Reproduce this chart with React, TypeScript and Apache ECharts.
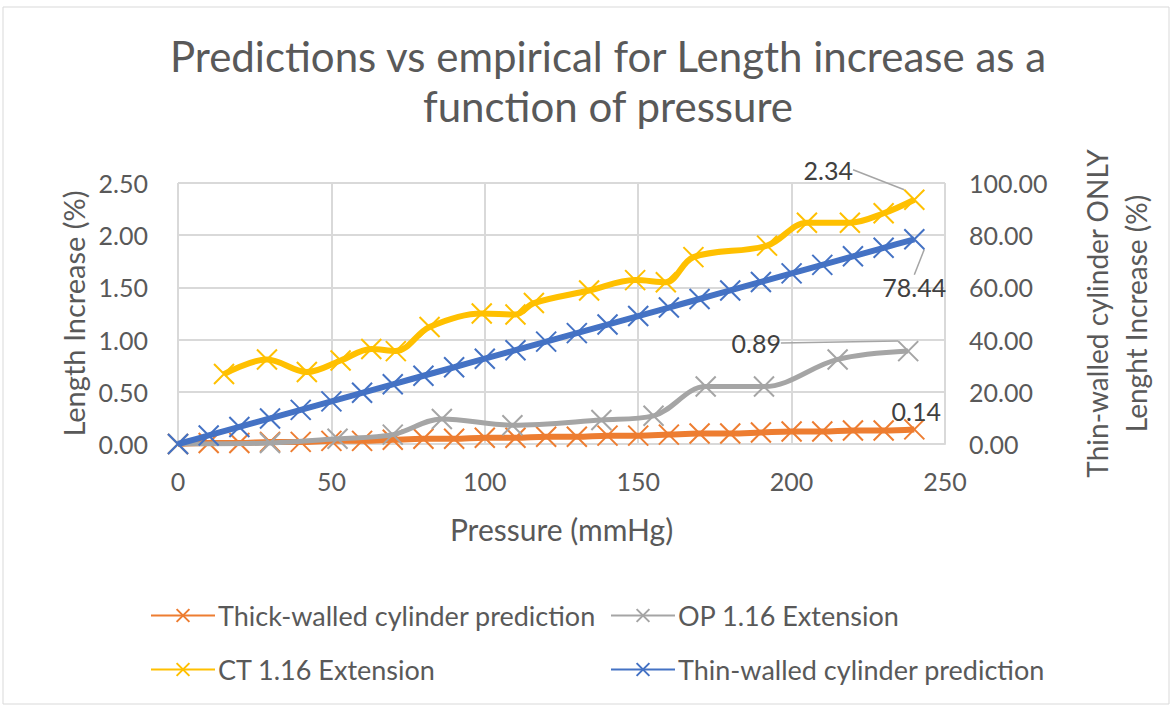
import React, { useEffect, useRef } from "react";
import * as echarts from "echarts";

const TITLE = "Predictions vs empirical for Length increase as a\nfunction of pressure";

const pressureGrid = [0, 10, 20, 30, 40, 50, 60, 70, 80, 90, 100, 110, 120, 130, 140, 150, 160, 170, 180, 190, 200, 210, 220, 230, 240];
const thickValues = [0, 0.01, 0.01, 0.02, 0.02, 0.03, 0.03, 0.04, 0.05, 0.05, 0.06, 0.06, 0.07, 0.07, 0.08, 0.08, 0.09, 0.1, 0.1, 0.11, 0.12, 0.12, 0.13, 0.13, 0.14];
const thinValues = [0, 3.27, 6.54, 9.8, 13.07, 16.34, 19.61, 22.88, 26.15, 29.41, 32.68, 35.95, 39.22, 42.49, 45.76, 49.03, 52.29, 55.56, 58.83, 62.1, 65.37, 68.64, 71.91, 75.17, 78.44];

const opPressure = [0, 30, 52, 70, 86, 109, 138, 155, 172, 191, 215, 238];
const opValues = [0, 0.01, 0.05, 0.09, 0.24, 0.18, 0.23, 0.27, 0.55, 0.55, 0.81, 0.89];

const ctPressure = [15, 29, 42, 53, 63, 71, 82, 99, 110, 116, 134, 149, 159, 168, 192, 205, 219, 230, 240];
const ctValues = [0.67, 0.81, 0.69, 0.8, 0.91, 0.89, 1.12, 1.25, 1.24, 1.35, 1.47, 1.57, 1.55, 1.79, 1.9, 2.12, 2.12, 2.21, 2.34];

const xTicks = [0, 50, 100, 150, 200, 250];

const NAMES = {
  thick: "Thick-walled cylinder prediction",
  op: "OP 1.16 Extension",
  ct: "CT 1.16 Extension",
  thin: "Thin-walled cylinder prediction",
};

const COLORS = { thick: "#ED7D31", op: "#A5A5A5", ct: "#FFC000", thin: "#4472C4" };
const TEXT = "#595959";
const GRID = "#D9D9D9";
const FONT = "Lato, 'Open Sans', sans-serif";
const XSYM = "path://M0,0L20,20M20,0L0,20";

function buildData(xs: number[], ys: number[], label: any) {
  return xs.map((x, i) =>
    i === xs.length - 1 ? { value: [x, ys[i]], label: { show: true, ...label } } : [x, ys[i]]
  );
}

function makeSeries(key: string, xs: number[], ys: number[], yAxisIndex: number, width: number, labelFmt: (v: number) => string, layout: any, showLine: boolean, z: number) {
  const color = (COLORS as any)[key];
  return {
    name: (NAMES as any)[key],
    type: "line",
    yAxisIndex,
    smooth: 0.35,
    z,
    symbol: XSYM,
    symbolSize: 20,
    showSymbol: true,
    lineStyle: { color, width },
    itemStyle: { color, borderColor: color, borderWidth: 2 },
    data: buildData(xs, ys, {
      position: "inside",
      formatter: (p: any) => labelFmt(p.value[1]),
      fontFamily: FONT,
      fontSize: 25,
      color: "#404040",
    }),
    labelLayout: layout,
    labelLine: { show: showLine, lineStyle: { color: "#A5A5A5", width: 1.5 } },
  };
}

export default function App() {
  const ref = useRef<HTMLDivElement>(null);
  useEffect(() => {
    const chart = echarts.init(ref.current!, null, { renderer: "svg" });
    const legendBase = {
      orient: "horizontal",
      itemWidth: 64,
      itemHeight: 16,
      itemGap: 6,
      textStyle: { fontFamily: FONT, fontSize: 27, color: TEXT, padding: [0, 0, 0, -2] },
    };
    const fmt2 = (v: number) => v.toFixed(2);
    chart.setOption({
      animation: false,
      backgroundColor: "#FFFFFF",
      title: {
        text: TITLE,
        top: 26,
        left: 603,
        textAlign: "center",
        textStyle: { fontFamily: FONT, fontSize: 42, fontWeight: "normal", color: TEXT, lineHeight: 50 },
      },
      graphic: [
        { type: "rect", shape: { x: 3, y: 7, width: 1166, height: 697 }, style: { fill: "none", stroke: GRID, lineWidth: 1 }, silent: true },
      ],
      legend: [
        { ...legendBase, left: 145, top: 597, data: [NAMES.thick] },
        { ...legendBase, left: 605, top: 597, data: [NAMES.op] },
        { ...legendBase, left: 145, top: 651, data: [NAMES.ct] },
        { ...legendBase, left: 605, top: 651, data: [NAMES.thin] },
      ],
      grid: { left: 178, right: 229, top: 183, bottom: 265, containLabel: false },
      xAxis: {
        type: "value",
        min: 0,
        max: 250,
        interval: 50,
        name: "Pressure (mmHg)",
        nameLocation: "middle",
        nameGap: 70,
        nameTextStyle: { fontFamily: FONT, fontSize: 30, color: TEXT },
        axisLine: { show: true, lineStyle: { color: GRID, width: 2 } },
        axisTick: { show: false },
        axisLabel: { fontFamily: FONT, fontSize: 25, color: TEXT, margin: 24, formatter: (v: number) => (xTicks.includes(v) ? String(v) : "") },
        splitLine: { show: true, lineStyle: { color: GRID, width: 2 } },
      },
      yAxis: [
        {
          type: "value",
          min: 0,
          max: 2.5,
          interval: 0.5,
          name: "Length Increase (%)",
          nameLocation: "middle",
          nameRotate: 90,
          nameGap: 86,
          nameTextStyle: { fontFamily: FONT, fontSize: 29, color: TEXT },
          axisLine: { show: false },
          axisTick: { show: false },
          axisLabel: { fontFamily: FONT, fontSize: 25, color: TEXT, margin: 30, formatter: fmt2 },
          splitLine: { show: true, lineStyle: { color: GRID, width: 2 } },
        },
        {
          type: "value",
          position: "right",
          min: 0,
          max: 100,
          interval: 20,
          name: "Thin-walled cylinder ONLY\nLenght Increase (%)",
          nameLocation: "middle",
          nameRotate: 90,
          nameGap: 132,
          nameTextStyle: { fontFamily: FONT, fontSize: 28, color: TEXT, lineHeight: 39 },
          axisLine: { show: false },
          axisTick: { show: false },
          axisLabel: { fontFamily: FONT, fontSize: 25, color: TEXT, margin: 24, formatter: fmt2 },
          splitLine: { show: false },
        },
      ],
      series: [
        makeSeries("thick", pressureGrid, thickValues, 0, 6, fmt2, { dx: 2, dy: -18 }, false, 2),
        makeSeries("op", opPressure, opValues, 0, 5, fmt2, { dx: -152, dy: -8 }, true, 3),
        makeSeries("ct", ctPressure, ctValues, 0, 6, fmt2, { dx: -86, dy: -30 }, true, 4),
        makeSeries("thin", pressureGrid, thinValues, 1, 6, fmt2, { dx: 0, dy: 48 }, true, 5),
      ],
    });
    return () => chart.dispose();
  }, []);
  return <div ref={ref} style={{ position: "fixed", left: 0, top: 0, width: 1174, height: 709, background: "#fff" }} />;
}
